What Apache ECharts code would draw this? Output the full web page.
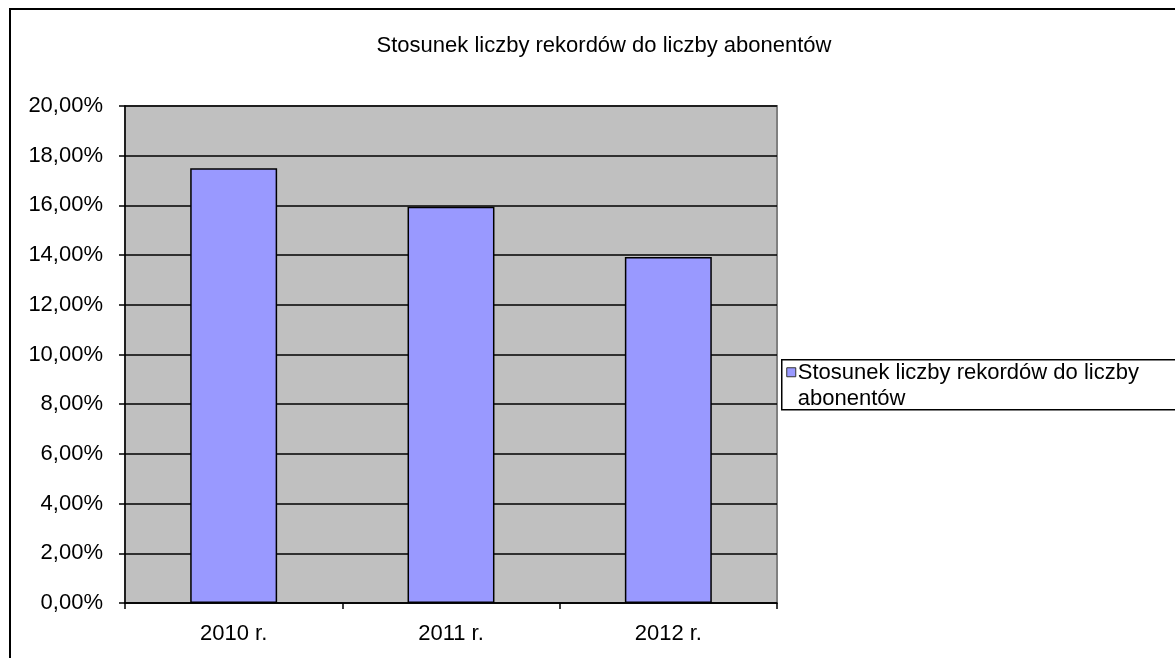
<!DOCTYPE html>
<html>
<head>
<meta charset="utf-8">
<script src="https://cdn.jsdelivr.net/npm/echarts@6/dist/echarts.min.js"></script>
<style>html,body{margin:0;padding:0;background:#fff;}#c{width:1175px;height:658px;}</style>
</head>
<body>
<div id="c"></div>
<script>
const titleText = 'Stosunek liczby rekordów do liczby abonentów';
const categories = ['2010 r.', '2011 r.', '2012 r.'];
const seriesName = 'Stosunek liczby rekordów do liczby\nabonentów';
const values = [17.5, 15.95, 13.92];
const yTicks = { min: 0, max: 20, interval: 2 };

const FONT = 'Liberation Sans, Arial, sans-serif';
const FS = 22;
const chart = echarts.init(document.getElementById('c'), null, { renderer: 'canvas' });
chart.setOption({
  animation: false,
  backgroundColor: '#ffffff',
  title: {
    text: titleText,
    left: 599, top: 30, textAlign: 'center',
    textStyle: { fontFamily: FONT, fontSize: FS, fontWeight: 'normal', color: '#000' }
  },
  grid: {
    left: 125, right: 398, top: 106, bottom: 55,
    show: true, backgroundColor: '#c0c0c0', borderColor: '#808080', borderWidth: 2
  },
  xAxis: {
    type: 'category', data: categories,
    axisLine: { lineStyle: { color: '#000', width: 1.5 } },
    axisTick: { show: true, inside: false, length: 6, alignWithLabel: false, lineStyle: { color: '#000', width: 1.5 } },
    axisLabel: { fontFamily: FONT, fontSize: FS, color: '#000', margin: 20 }
  },
  yAxis: {
    type: 'value', min: yTicks.min, max: yTicks.max, interval: yTicks.interval,
    axisLine: { show: true, lineStyle: { color: '#000', width: 1.5 } },
    axisTick: { show: true, inside: false, length: 6, lineStyle: { color: '#000', width: 1.5 } },
    splitLine: { show: true, lineStyle: { color: '#000', width: 1.5 } },
    axisLabel: {
      fontFamily: FONT, fontSize: FS, color: '#000', margin: 22,
      formatter: v => v.toFixed(2).replace('.', ',') + '%'
    }
  },
  series: [{
    type: 'bar', name: seriesName, data: values, barWidth: '40%',
    itemStyle: { color: '#9999ff', borderColor: '#000', borderWidth: 1.5 }
  }],
  graphic: [
    { type: 'rect', shape: { x: 10, y: 9, width: 1200, height: 700 },
      style: { fill: 'none', stroke: '#000', lineWidth: 2 }, silent: true },
    { type: 'group', left: 781, top: 359, children: [
      { type: 'rect', shape: { x: 0, y: 0, width: 430, height: 50 },
        style: { fill: '#fff', stroke: '#000', lineWidth: 1.5 } },
      { type: 'rect', shape: { x: 5, y: 8, width: 9, height: 9 },
        style: { fill: '#9999ff', stroke: '#333', lineWidth: 1 } },
      { type: 'text', x: 16, y: 0,
        style: { text: seriesName, fontFamily: FONT, fontSize: FS, lineHeight: 26, fill: '#000' } }
    ]}
  ]
});
</script>
</body>
</html>
